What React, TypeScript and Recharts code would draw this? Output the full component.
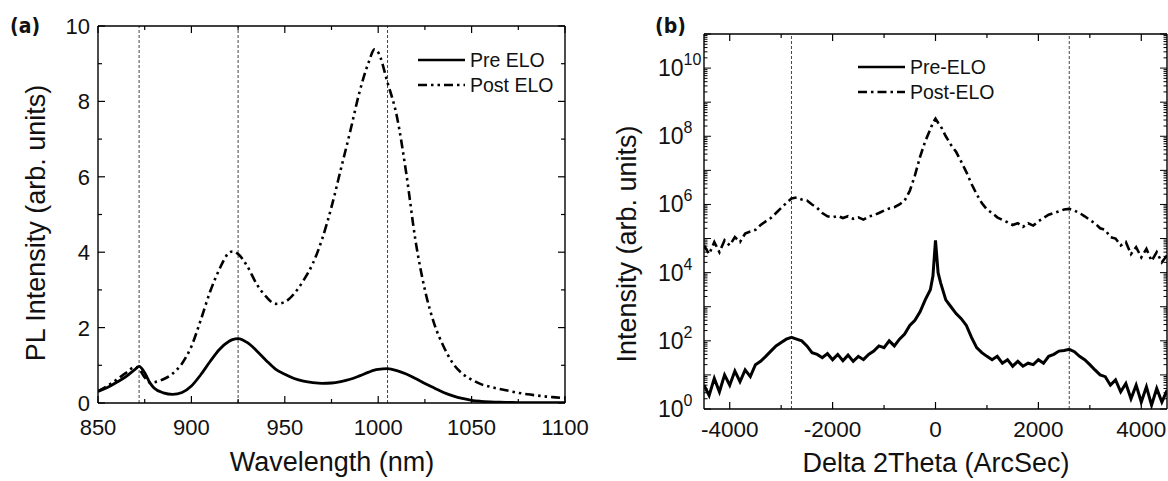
import React from 'react';
import { LineChart, Line, XAxis, YAxis, ReferenceLine, Legend, Label } from 'recharts';

const FONT = "'Liberation Sans', Arial, Helvetica, sans-serif";
const BOLD_FONT = "'DejaVu Sans Condensed', 'DejaVu Sans', sans-serif";
const INK = '#111';

// ---------------- Panel (a): PL spectra ----------------
const wavelengthNm = [
  850, 855, 860, 865, 870, 872, 875, 878, 880, 885,
  890, 895, 900, 905, 910, 915, 920, 922, 925, 930,
  935, 940, 945, 950, 955, 960, 965, 970, 975, 980,
  985, 990, 995, 998, 1000, 1005, 1010, 1015, 1020, 1025,
  1030, 1035, 1040, 1045, 1050, 1055, 1060, 1065, 1070, 1075,
  1080, 1085, 1090, 1095, 1100,
];
const preEloPL = [
  0.31, 0.41, 0.55, 0.7, 0.9, 0.97, 0.8, 0.52, 0.4, 0.27,
  0.23, 0.28, 0.45, 0.75, 1.1, 1.42, 1.63, 1.68, 1.71, 1.6,
  1.38, 1.13, 0.9, 0.76, 0.65, 0.58, 0.54, 0.52, 0.53, 0.57,
  0.63, 0.72, 0.82, 0.87, 0.89, 0.91, 0.86, 0.77, 0.65, 0.52,
  0.4, 0.28, 0.19, 0.12, 0.07, 0.045, 0.03, 0.02, 0.015, 0.01,
  0.01, 0.01, 0.008, 0.008, 0.008,
];
const postEloPL = [
  0.31, 0.45, 0.62, 0.8, 0.96, 0.9, 0.68, 0.54, 0.55, 0.63,
  0.78, 1.05, 1.5, 2.2, 2.95, 3.55, 3.98, 4.02, 3.95, 3.62,
  3.15, 2.82, 2.63, 2.68, 2.9, 3.25, 3.7, 4.35, 5.2, 6.2,
  7.2, 8.25, 9.05, 9.38, 9.3, 8.5, 7.6, 6.1, 4.3, 3.0,
  2.1, 1.5, 1.05, 0.78, 0.62, 0.5, 0.43, 0.37, 0.32, 0.27,
  0.23, 0.2, 0.17, 0.15, 0.13,
];
const plXTicks = [850, 875, 900, 925, 950, 975, 1000, 1025, 1050, 1075, 1100];
const plXMajor = [850, 900, 950, 1000, 1050, 1100];
const plYTicks = [0, 1, 2, 3, 4, 5, 6, 7, 8, 9, 10];
const plYMajor = [0, 2, 4, 6, 8, 10];
const plPeakMarkers = [872, 925, 1005];

// ---------------- Panel (b): XRD ----------------
const deltaTheta = [
  -4500, -4400, -4300, -4200, -4100, -4000, -3900, -3800, -3700, -3600,
  -3500, -3400, -3300, -3200, -3100, -3000, -2900, -2800, -2700, -2600,
  -2500, -2400, -2300, -2200, -2100, -2000, -1900, -1800, -1700, -1600,
  -1500, -1400, -1300, -1200, -1100, -1000, -900, -800, -700, -600,
  -500, -400, -300, -200, -100,
  -50, 0, 50,
  100, 200, 300, 400, 500, 600, 700, 800, 900, 1000,
  1100, 1200, 1300, 1400, 1500, 1600, 1700, 1800, 1900, 2000,
  2100, 2200, 2300, 2400, 2500, 2600, 2700, 2800, 2900, 3000,
  3100, 3200, 3300, 3400, 3500, 3600, 3700, 3800, 3900, 4000,
  4100, 4200, 4300, 4400, 4500,
];
const preEloXrd = [
  5.0, 2.5, 7.9, 3.2, 10, 5.0, 13, 6.3, 14, 8.9,
  20, 25, 35, 50, 71, 89, 112, 126, 112, 100,
  71, 45, 40, 32, 42, 28, 40, 26, 38, 25,
  35, 28, 40, 50, 71, 63, 100, 71, 112, 158,
  282, 398, 708, 1585, 3162,
  7943, 89125, 10000,
  5012, 1585, 1000, 631, 447, 282, 126, 63, 45, 35,
  28, 35, 22, 28, 18, 25, 18, 22, 20, 28,
  22, 35, 40, 50, 52, 56, 48, 35, 28, 20,
  14, 10, 8.9, 5.0, 7.1, 3.2, 5.6, 2.0, 5.0, 1.6,
  4.5, 1.3, 4.0, 1.6, 3.5,
];
const postEloXrd = [
  6.3e4, 3.5e4, 7.9e4, 4.0e4, 8.9e4, 6.3e4, 1.1e5, 7.9e4, 1.4e5, 1.6e5,
  1.8e5, 2.5e5, 3.2e5, 4.0e5, 5.6e5, 7.9e5, 1.1e6, 1.5e6, 1.6e6, 1.4e6,
  1.3e6, 1.0e6, 7.9e5, 5.6e5, 4.5e5, 4.2e5, 4.6e5, 4.0e5, 4.5e5, 3.8e5,
  4.2e5, 3.6e5, 4.4e5, 4.8e5, 5.6e5, 6.6e5, 7.6e5, 8.3e5, 1.0e6, 1.3e6,
  2.5e6, 7.1e6, 2.5e7, 7.1e7, 1.6e8,
  2.5e8, 3.3e8, 2.5e8,
  2.0e8, 1.0e8, 5.6e7, 3.5e7, 1.8e7, 8.9e6, 4.0e6, 2.0e6, 1.1e6, 7.1e5,
  5.6e5, 4.2e5, 3.5e5, 3.0e5, 2.5e5, 2.8e5, 2.2e5, 2.8e5, 2.4e5, 3.2e5,
  4.0e5, 5.0e5, 5.6e5, 6.3e5, 7.1e5, 7.4e5, 6.6e5, 5.6e5, 4.5e5, 3.5e5,
  2.8e5, 2.0e5, 1.8e5, 1.1e5, 1.0e5, 6.3e4, 7.9e4, 3.5e4, 5.6e4, 2.8e4,
  5.0e4, 2.2e4, 4.0e4, 2.0e4, 3.2e4,
];
const xrdXTicks = [-4000, -3000, -2000, -1000, 0, 1000, 2000, 3000, 4000];
const xrdXMajor = [-4000, -2000, 0, 2000, 4000];
const xrdDecades = [0, 1, 2, 3, 4, 5, 6, 7, 8, 9, 10, 11];
const xrdLabelDecades = [0, 2, 4, 6, 8, 10];
const xrdMantissas = [1, 2, 3, 4, 5, 6, 7, 8, 9];
const xrdSatelliteMarkers = [-2800, 2600];

const xrdYTicks: number[] = [];
xrdDecades.forEach((d) => {
  xrdMantissas.forEach((m) => {
    if (d === 11 && m > 1) return;
    xrdYTicks.push(m * Math.pow(10, d));
  });
});

const plRows = wavelengthNm.map((wl, i) => ({ wl, pre: preEloPL[i], post: postEloPL[i] }));
const xrdRows = deltaTheta.map((dt, i) => ({ dt, pre: preEloXrd[i], post: postEloXrd[i] }));

// ---------------- tick renderers ----------------
const TW = 1.2;
const bottomTick = (majors: number[], size: number, offset: number) => (p: any) => {
  const { x, y, payload } = p;
  const v = payload.value;
  const major = majors.includes(v);
  return (
    <g>
      <line x1={x} x2={x} y1={y} y2={y - (major ? 7 : 4)} stroke="#000" strokeWidth={TW} />
      {major && (
        <text x={x} y={y + offset} textAnchor="middle" fontSize={size} fontFamily={FONT} fill={INK}>
          {String(v)}
        </text>
      )}
    </g>
  );
};
const topTick = (majors: number[]) => (p: any) => {
  const { x, y, payload } = p;
  const major = majors.includes(payload.value);
  return <line x1={x} x2={x} y1={y} y2={y + (major ? 7 : 4)} stroke="#000" strokeWidth={TW} />;
};
const leftLinTick = (majors: number[], size: number) => (p: any) => {
  const { x, y, payload } = p;
  const v = payload.value;
  const major = majors.includes(v);
  return (
    <g>
      <line x1={x} x2={x + (major ? 7 : 4)} y1={y} y2={y} stroke="#000" strokeWidth={TW} />
      {major && (
        <text x={x - 8} y={y + 8} textAnchor="end" fontSize={size} fontFamily={FONT} fill={INK}>
          {String(v)}
        </text>
      )}
    </g>
  );
};
const rightLinTick = (majors: number[]) => (p: any) => {
  const { x, y, payload } = p;
  const major = majors.includes(payload.value);
  return <line x1={x} x2={x - (major ? 7 : 4)} y1={y} y2={y} stroke="#000" strokeWidth={TW} />;
};
const decadeOf = (v: number) => {
  const e = Math.log10(v);
  const r = Math.round(e);
  return Math.abs(e - r) < 1e-6 ? r : null;
};
const leftLogTick = (p: any) => {
  const { x, y, payload } = p;
  const d = decadeOf(payload.value);
  const major = d !== null;
  return (
    <g>
      <line x1={x} x2={x + (major ? 7 : 3.5)} y1={y} y2={y} stroke="#000" strokeWidth={1} />
      {major && xrdLabelDecades.includes(d as number) && (
        <text x={x - 46} y={y + 8} textAnchor="start" fontSize={23} fontFamily={FONT} fill={INK}>
          10
          <tspan dy={-11} fontSize={16}>{String(d)}</tspan>
        </text>
      )}
    </g>
  );
};
const rightLogTick = (p: any) => {
  const { x, y, payload } = p;
  const major = decadeOf(payload.value) !== null;
  return <line x1={x} x2={x - (major ? 7 : 3.5)} y1={y} y2={y} stroke="#000" strokeWidth={1} />;
};

const axisLine = { stroke: '#000', strokeWidth: 1.4 };
const markerStyle = { stroke: '#444', strokeWidth: 1, strokeDasharray: '3 2' };

const LegendBox = ({ labels, postDash }: { labels: string[]; postDash: string }) => (
  <svg width={180} height={56} style={{ display: 'block', overflow: 'visible' }}>
    <line x1={3} x2={50} y1={15} y2={15} stroke="#000" strokeWidth={2.6} />
    <text x={55} y={22} fontSize={19.5} fontFamily={FONT} fill={INK}>{labels[0]}</text>
    <line x1={3} x2={50} y1={40} y2={40} stroke="#000" strokeWidth={2.6} strokeDasharray={postDash} />
    <text x={55} y={47} fontSize={19.5} fontFamily={FONT} fill={INK}>{labels[1]}</text>
  </svg>
);

const DASH_DOT_DOT = '9 4 2.5 4 2.5 4';
const DASH_DOT = '9 4 2.5 4';

export default function App() {
  return (
    <div style={{ position: 'absolute', left: 0, top: 0, width: 1168, height: 481, background: '#fff' }}>
      {/* Panel (a) */}
      <div style={{ position: 'absolute', left: 0, top: 0 }}>
        <LineChart width={590} height={481} data={plRows} margin={{ top: 25, right: 24, bottom: 77, left: 0 }}>
          <XAxis
            dataKey="wl" type="number" domain={[850, 1100]} allowDataOverflow ticks={plXTicks} interval={0}
            height={1} tickSize={0} tickMargin={0} tickLine={false} axisLine={axisLine}
            tick={bottomTick(plXMajor, 22, 32)}
          >
            <Label content={() => (
              <text x={332} y={471} textAnchor="middle" fontSize={27} fontFamily={FONT} fill={INK}>Wavelength (nm)</text>
            )} />
          </XAxis>
          <XAxis
            xAxisId="top" orientation="top" dataKey="wl" type="number" domain={[850, 1100]} allowDataOverflow
            ticks={plXTicks} interval={0} height={1} tickSize={0} tickMargin={0} tickLine={false} axisLine={axisLine}
            tick={topTick(plXMajor)}
          >
            <Label content={() => (
              <text x={10} y={33} fontSize={21} fontWeight="bold" fontFamily={BOLD_FONT} fill={INK} style={{ fontStretch: 'condensed' }}>(a)</text>
            )} />
          </XAxis>
          <YAxis
            type="number" domain={[0, 10]} allowDataOverflow ticks={plYTicks} interval={0} width={98}
            tickSize={0} tickMargin={0} tickLine={false} axisLine={axisLine} tick={leftLinTick(plYMajor, 22)}
          >
            <Label content={() => (
              <text x={45} y={223} transform="rotate(-90 45 223)" textAnchor="middle" fontSize={27} fontFamily={FONT} fill={INK}>PL Intensity (arb. units)</text>
            )} />
          </YAxis>
          <YAxis
            yAxisId="right" orientation="right" type="number" domain={[0, 10]} allowDataOverflow ticks={plYTicks}
            interval={0} width={1} tickSize={0} tickMargin={0} tickLine={false} axisLine={axisLine}
            tick={rightLinTick(plYMajor)}
          />
          {plPeakMarkers.map((m) => (
            <ReferenceLine key={m} x={m} {...markerStyle} />
          ))}
          <Line dataKey="pre" type="monotone" stroke="#000" strokeWidth={2.8} dot={false} isAnimationActive={false} />
          <Line dataKey="post" type="monotone" stroke="#000" strokeWidth={2.6} strokeDasharray={DASH_DOT_DOT} dot={false} isAnimationActive={false} />
          <Line dataKey="pre" xAxisId="top" yAxisId="right" stroke="none" strokeWidth={0} dot={false} activeDot={false} legendType="none" isAnimationActive={false} />
          <Legend
            layout="vertical" align="center" verticalAlign="middle"
            wrapperStyle={{ position: 'absolute', left: 415, top: 45, width: 180, height: 56 }}
            content={() => <LegendBox labels={['Pre ELO', 'Post ELO']} postDash={DASH_DOT_DOT} />}
          />
        </LineChart>
      </div>

      {/* Panel (b) */}
      <div style={{ position: 'absolute', left: 590, top: 0 }}>
        <LineChart width={578} height={481} data={xrdRows} margin={{ top: 33, right: 0, bottom: 71, left: 0 }}>
          <XAxis
            dataKey="dt" type="number" domain={[-4500, 4500]} allowDataOverflow ticks={xrdXTicks} interval={0}
            height={1} tickSize={0} tickMargin={0} tickLine={false} axisLine={axisLine}
            tick={bottomTick(xrdXMajor, 22.5, 28)}
          >
            <Label content={() => (
              <text x={346} y={472} textAnchor="middle" fontSize={27} fontFamily={FONT} fill={INK}>Delta 2Theta (ArcSec)</text>
            )} />
          </XAxis>
          <XAxis
            xAxisId="top" orientation="top" dataKey="dt" type="number" domain={[-4500, 4500]} allowDataOverflow
            ticks={xrdXTicks} interval={0} height={1} tickSize={0} tickMargin={0} tickLine={false} axisLine={axisLine}
            tick={topTick(xrdXMajor)}
          >
            <Label content={() => (
              <text x={65} y={33} fontSize={21} fontWeight="bold" fontFamily={BOLD_FONT} fill={INK} style={{ fontStretch: 'condensed' }}>(b)</text>
            )} />
          </XAxis>
          <YAxis
            type="number" scale="log" domain={[1, 1e11]} allowDataOverflow ticks={xrdYTicks} interval={0} width={114}
            tickSize={0} tickMargin={0} tickLine={false} axisLine={axisLine} tick={leftLogTick}
          >
            <Label content={() => (
              <text x={46} y={244} transform="rotate(-90 46 244)" textAnchor="middle" fontSize={27} fontFamily={FONT} fill={INK}>Intensity (arb. units)</text>
            )} />
          </YAxis>
          <YAxis
            yAxisId="right" orientation="right" type="number" scale="log" domain={[1, 1e11]} allowDataOverflow
            ticks={xrdYTicks} interval={0} width={1} tickSize={0} tickMargin={0} tickLine={false} axisLine={axisLine}
            tick={rightLogTick}
          />
          {xrdSatelliteMarkers.map((m) => (
            <ReferenceLine key={m} x={m} {...markerStyle} />
          ))}
          <Line dataKey="pre" type="linear" stroke="#000" strokeWidth={3} dot={false} isAnimationActive={false} />
          <Line dataKey="post" type="linear" stroke="#000" strokeWidth={2.6} strokeDasharray={DASH_DOT} dot={false} isAnimationActive={false} />
          <Line dataKey="pre" xAxisId="top" yAxisId="right" stroke="none" strokeWidth={0} dot={false} activeDot={false} legendType="none" isAnimationActive={false} />
          <Legend
            layout="vertical" align="center" verticalAlign="middle"
            wrapperStyle={{ position: 'absolute', left: 265, top: 52, width: 180, height: 56 }}
            content={() => <LegendBox labels={['Pre-ELO', 'Post-ELO']} postDash={DASH_DOT} />}
          />
        </LineChart>
      </div>
    </div>
  );
}
